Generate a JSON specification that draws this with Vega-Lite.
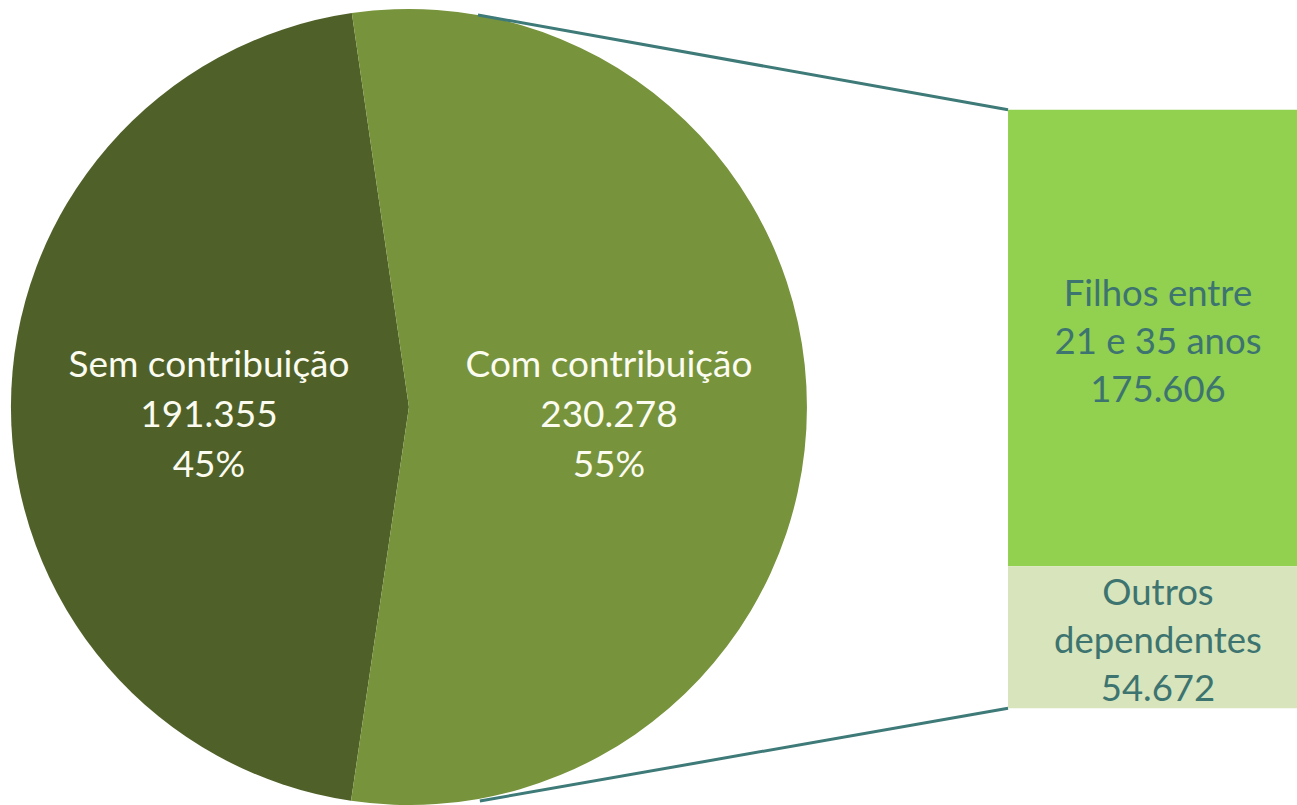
{
  "$schema": "https://vega.github.io/schema/vega-lite/v6.json",
  "width": 1297,
  "height": 805,
  "autosize": {"type": "fit", "contains": "padding"},
  "padding": 0,
  "background": "white",
  "config": {
    "view": {"stroke": null},
    "locale": {"number": {"decimal": ",", "thousands": ".", "grouping": [3], "currency": ["R$ ", ""]}},
    "axis": {"disable": true}
  },
  "datasets": {
    "pizza": [
      {"categoria": "Sem contribuição", "valor": 191355},
      {"categoria": "Com contribuição", "valor": 230278}
    ],
    "barra": [
      {"categoria": "Filhos entre\n\u00a021 e 35 anos", "valor": 175606},
      {"categoria": "Outros\ndependentes", "valor": 54672}
    ]
  },
  "layer": [
    {
      "data": {"name": "pizza"},
      "transform": [
        {"joinaggregate": [{"op": "sum", "field": "valor", "as": "total"}]},
        {"calculate": "[datum.categoria, format(datum.valor, ','), format(datum.valor / datum.total, '.0%')]", "as": "rotulo"}
      ],
      "layer": [
        {
          "mark": {"type": "arc", "outerRadius": 398},
          "encoding": {
            "theta": {"field": "valor", "type": "quantitative", "stack": true, "scale": {"range": [-0.144, 6.1392]}},
            "order": {"field": "valor", "sort": "descending"},
            "color": {
              "field": "categoria", "type": "nominal", "legend": null,
              "scale": {
                "domain": ["Sem contribuição", "Com contribuição", "Filhos entre\n\u00a021 e 35 anos", "Outros\ndependentes"],
                "range": ["#4f6128", "#77933c", "#92d050", "#d8e4bc"]
              }
            },
            "x": {"datum": 31.53, "type": "quantitative", "scale": {"domain": [0, 100], "nice": false, "zero": false}, "axis": null},
            "y": {"datum": 115900, "type": "quantitative", "scale": {"domain": [-36461, 272496], "nice": false, "zero": false}, "axis": null}
          }
        },
        {
          "mark": {"type": "text", "radius": 200, "font": "Lato", "fontSize": 37, "lineHeight": 50, "dy": -41, "color": "#fbfbef", "align": "center", "baseline": "middle"},
          "encoding": {
            "theta": {"field": "valor", "type": "quantitative", "stack": true, "scale": {"range": [-0.144, 6.1392]}},
            "order": {"field": "valor", "sort": "descending"},
            "text": {"field": "rotulo"},
            "x": {"datum": 31.53, "type": "quantitative", "scale": {"domain": [0, 100], "nice": false, "zero": false}, "axis": null},
            "y": {"datum": 115900, "type": "quantitative", "scale": {"domain": [-36461, 272496], "nice": false, "zero": false}, "axis": null}
          }
        }
      ]
    },
    {
      "data": {"name": "barra"},
      "transform": [
        {"stack": "valor", "groupby": [], "sort": [{"field": "valor", "order": "ascending"}], "as": ["y0", "y1"]},
        {"calculate": "(datum.y0 + datum.y1) / 2", "as": "meio"},
        {"calculate": "datum.categoria + '\\n' + format(datum.valor, ',')", "as": "rotulo"}
      ],
      "layer": [
        {
          "mark": {"type": "rect"},
          "encoding": {
            "x": {"datum": 77.72, "type": "quantitative", "scale": {"domain": [0, 100], "nice": false, "zero": false}, "axis": null},
            "x2": {"datum": 100},
            "y": {"field": "y0", "type": "quantitative", "scale": {"domain": [-36461, 272496], "nice": false, "zero": false}, "axis": null},
            "y2": {"field": "y1"},
            "color": {"field": "categoria", "type": "nominal", "legend": null}
          }
        },
        {
          "mark": {"type": "text", "font": "Lato", "fontSize": 36.5, "lineHeight": 48, "dy": -43, "lineBreak": "\n", "color": "#3d7470", "align": "center", "baseline": "middle"},
          "encoding": {
            "x": {"datum": 89.28, "type": "quantitative", "scale": {"domain": [0, 100], "nice": false, "zero": false}, "axis": null},
            "y": {"field": "meio", "type": "quantitative", "scale": {"domain": [-36461, 272496], "nice": false, "zero": false}, "axis": null},
            "text": {"field": "rotulo"}
          }
        }
      ]
    },
    {
      "data": {"values": [{}]},
      "mark": {"type": "rule", "strokeWidth": 3, "color": "#3e7a78"},
      "encoding": {
        "x": {"datum": 36.85, "type": "quantitative", "scale": {"domain": [0, 100], "nice": false, "zero": false}, "axis": null},
        "y": {"datum": 266739, "type": "quantitative", "scale": {"domain": [-36461, 272496], "nice": false, "zero": false}, "axis": null},
        "x2": {"datum": 77.72},
        "y2": {"datum": 230278}
      }
    },
    {
      "data": {"values": [{}]},
      "mark": {"type": "rule", "strokeWidth": 3, "color": "#3e7a78"},
      "encoding": {
        "x": {"datum": 37.0, "type": "quantitative", "scale": {"domain": [0, 100], "nice": false, "zero": false}, "axis": null},
        "y": {"datum": -35693, "type": "quantitative", "scale": {"domain": [-36461, 272496], "nice": false, "zero": false}, "axis": null},
        "x2": {"datum": 77.72},
        "y2": {"datum": 0}
      }
    }
  ]
}
